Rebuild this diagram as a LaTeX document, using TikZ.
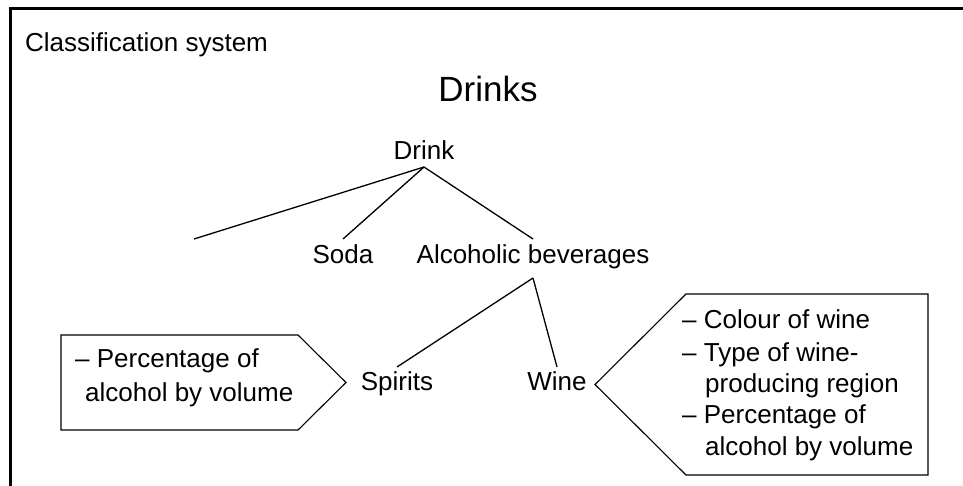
\documentclass[tikz,border=0pt]{standalone}
\usepackage{fontspec}
\setmainfont{Liberation Sans}
\begin{document}
\begin{tikzpicture}[x=1pt,y=-1pt,
  lbl/.style={inner sep=0pt, font=\fontsize{26}{31}\selectfont},
  headline/.style={inner sep=0pt, font=\fontsize{35}{42}\selectfont},
  frameline/.style={line width=3pt},
  branch/.style={line width=1.3pt},
  callout/.style={draw, line width=1.1pt, line join=miter}]
\useasboundingbox (0,0) rectangle (963,486);
\clip (0,0) rectangle (963,486);

% outer frame (open towards the right and the bottom)
\draw[frameline] (10,500) -- (10,9) -- (980,9);

% titles
\node[lbl, anchor=base west] (title) at (25,52) {Classification system};
\node[headline, anchor=base] (heading) at (488,102) {Drinks};

% tree labels
\node[lbl, anchor=base] (drink) at (424,160) {Drink};
\node[lbl, anchor=base] (soda) at (343,264) {Soda};
\node[lbl, anchor=base] (alc) at (533,264) {Alcoholic beverages};
\node[lbl, anchor=base] (spirits) at (397,390) {Spirits};
\node[lbl, anchor=base] (wine) at (557,390) {Wine};
\coordinate (other) at (194,239);

% branches
\draw[branch] ([yshift=-7pt]drink.base) -- (other);
\draw[branch] ([yshift=-7pt]drink.base) -- ([yshift=25pt]soda.base);
\draw[branch] ([yshift=-7pt]drink.base) -- ([yshift=25pt]alc.base);
\draw[branch] ([yshift=-14pt]alc.base) -- ([yshift=23pt]spirits.base);
\draw[branch] ([yshift=-14pt]alc.base) -- ([yshift=23pt]wine.base);

% callout for spirits
\draw[callout] (61,335) -- (298,335) -- (346,382.5) -- (298,430) -- (61,430) -- cycle;
\node[lbl, anchor=base west] (sp1) at (75,367) {– Percentage of};
\node[lbl, anchor=base west] (sp2) at (85,401) {alcohol by volume};

% callout for wine
\draw[callout] (595,384.5) -- (686,294) -- (928,294) -- (928,475) -- (686,475) -- cycle;
\node[lbl, anchor=base west] (wn1) at (682,328) {– Colour of wine};
\node[lbl, anchor=base west] (wn2) at (682,361) {– Type of wine-};
\node[lbl, anchor=base west] (wn3) at (705,392) {producing region};
\node[lbl, anchor=base west] (wn4) at (682,423) {– Percentage of};
\node[lbl, anchor=base west] (wn5) at (705,455) {alcohol by volume};
\end{tikzpicture}
\end{document}
